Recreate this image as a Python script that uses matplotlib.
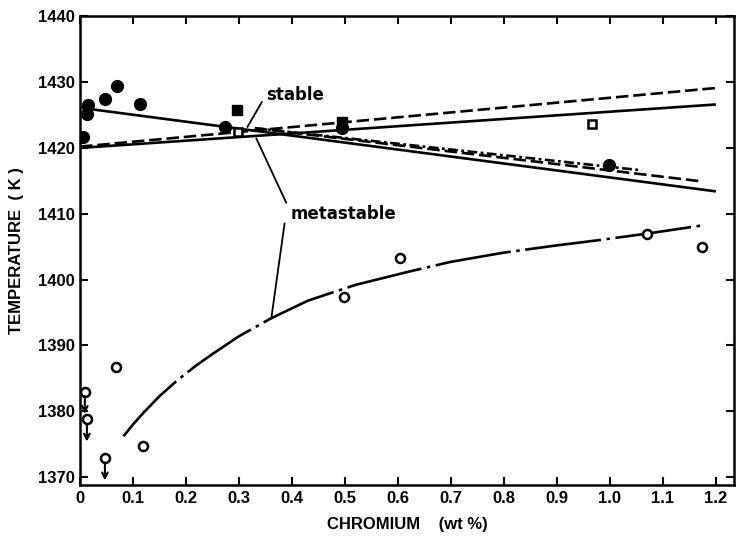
import numpy as np
import matplotlib
matplotlib.use('Agg')
import matplotlib.pyplot as plt

# Data
# filled circles (stable measurements)
fc_x = [0.005, 0.013, 0.016, 0.047, 0.069, 0.113, 0.273, 0.495, 0.998]
fc_t = [1421.6, 1425.2, 1426.5, 1427.4, 1429.4, 1426.6, 1423.2, 1423.0, 1417.4]
# filled squares
fs_x = [0.296, 0.495]
fs_t = [1425.7, 1424.0]
# open squares
os_x = [0.298, 0.966]
os_t = [1422.4, 1423.7]
# open circles (metastable measurements)
oc_x = [0.068, 0.118, 0.499, 0.603, 1.07, 1.173]
oc_t = [1386.7, 1374.7, 1397.4, 1403.3, 1406.9, 1405.0]
# open circles that are upper limits (arrow down)
ocl_x = [0.009, 0.013, 0.047]
ocl_t = [1383.0, 1378.8, 1372.9]

# straight lines
stable_desc_x = [0.0, 1.2]
stable_desc_t = [1426.1, 1413.4]
solid_asc_x = [0.0, 1.2]
solid_asc_t = [1420.0, 1426.6]
dash_asc_x = [0.0, 1.2]
dash_asc_t = [1420.2, 1429.1]
dash_desc_x = [0.33, 1.175]
dash_desc_t = [1423.0, 1414.9]
dashdot_desc_x = [0.33, 1.06]
dashdot_desc_t = [1423.0, 1416.6]

# metastable curve
meta_x = [0.082, 0.10, 0.12, 0.15, 0.185, 0.22, 0.25, 0.30, 0.36, 0.43, 0.52,
          0.62, 0.70, 0.80, 0.90, 0.98, 1.08, 1.18]
meta_t = [1376.2, 1378.0, 1379.8, 1382.3, 1384.8, 1387.0, 1388.7, 1391.4, 1394.1,
          1396.8, 1399.2, 1401.2, 1402.7, 1404.1, 1405.2, 1406.0, 1407.1, 1408.3]

xticks = [0, 0.1, 0.2, 0.3, 0.4, 0.5, 0.6, 0.7, 0.8, 0.9, 1.0, 1.1, 1.2]
xtick_labels = ['0', '0.1', '0.2', '0.3', '0.4', '0.5', '0.6', '0.7', '0.8', '0.9', '1.0', '1.1', '1.2']
yticks = [1370, 1380, 1390, 1400, 1410, 1420, 1430, 1440]

plt.rcParams['font.family'] = ['Liberation Sans', 'DejaVu Sans']
plt.rcParams['font.weight'] = 'bold'
plt.rcParams['lines.scale_dashes'] = False

fig = plt.figure(figsize=(7.43, 5.47), dpi=100)
ax = fig.add_axes([0.1077, 0.1133, 0.880, 0.857])

lw = 1.9
ax.plot(stable_desc_x, stable_desc_t, color='black', lw=lw, solid_capstyle='butt')
ax.plot(solid_asc_x, solid_asc_t, color='black', lw=lw, solid_capstyle='butt')
ax.plot(dash_asc_x, dash_asc_t, color='black', lw=lw, linestyle=(0, (9, 3.5)))
ax.plot(dash_desc_x, dash_desc_t, color='black', lw=lw, linestyle=(0, (9, 3.5)))
ax.plot(dashdot_desc_x, dashdot_desc_t, color='black', lw=lw, linestyle=(0, (7, 2.5, 2, 2.5)))
ax.plot(meta_x, meta_t, color='black', lw=lw, linestyle=(0, (55, 4, 2.5, 4)),
        solid_joinstyle='round')

# markers
ax.plot(fc_x, fc_t, 'o', color='black', ms=8.5, ls='none')
ax.plot(fs_x, fs_t, 's', color='black', ms=7.5, ls='none')
ax.plot(os_x, os_t, 's', mfc='white', mec='black', mew=1.8, ms=6, ls='none')
ax.plot(oc_x, oc_t, 'o', mfc='white', mec='black', mew=1.8, ms=6.5, ls='none')
ax.plot(ocl_x, ocl_t, 'o', mfc='white', mec='black', mew=1.8, ms=6.5, ls='none')
for x, t in zip(ocl_x, ocl_t):
    ax.annotate('', xy=(x, t - 3.4), xytext=(x, t - 0.7),
                arrowprops=dict(arrowstyle='->', color='black', lw=1.5,
                                mutation_scale=10, shrinkA=0, shrinkB=0))

# labels on the curves
ax.text(0.405, 1428.0, 'stable', fontsize=12, ha='center', va='center',
        family=['DejaVu Sans'], fontweight='bold')
ax.plot([0.343, 0.316], [1426.95, 1423.2], color='black', lw=1.3)
ax.text(0.497, 1410.0, 'metastable', fontsize=12, ha='center', va='center',
        family=['DejaVu Sans'], fontweight='bold')
ax.plot([0.389, 0.333], [1411.7, 1421.4], color='black', lw=1.3)
ax.plot([0.386, 0.361], [1408.5, 1394.1], color='black', lw=1.3)

ax.set_xlim(0, 1.234)
ax.set_ylim(1368.8, 1440)
ax.set_xticks(xticks)
ax.set_xticklabels(xtick_labels)
ax.set_yticks(yticks)
ax.tick_params(direction='in', length=6, width=1.5, top=True, right=True,
               labelsize=12, pad=4)
for s in ax.spines.values():
    s.set_linewidth(1.8)

ax.set_xlabel('CHROMIUM    (wt %)', fontsize=12, fontweight='bold', labelpad=8)
ax.set_ylabel('TEMPERATURE  ( K )', fontsize=12, fontweight='bold', labelpad=10)

plt.savefig('out.png', dpi=100)
plt.close()
